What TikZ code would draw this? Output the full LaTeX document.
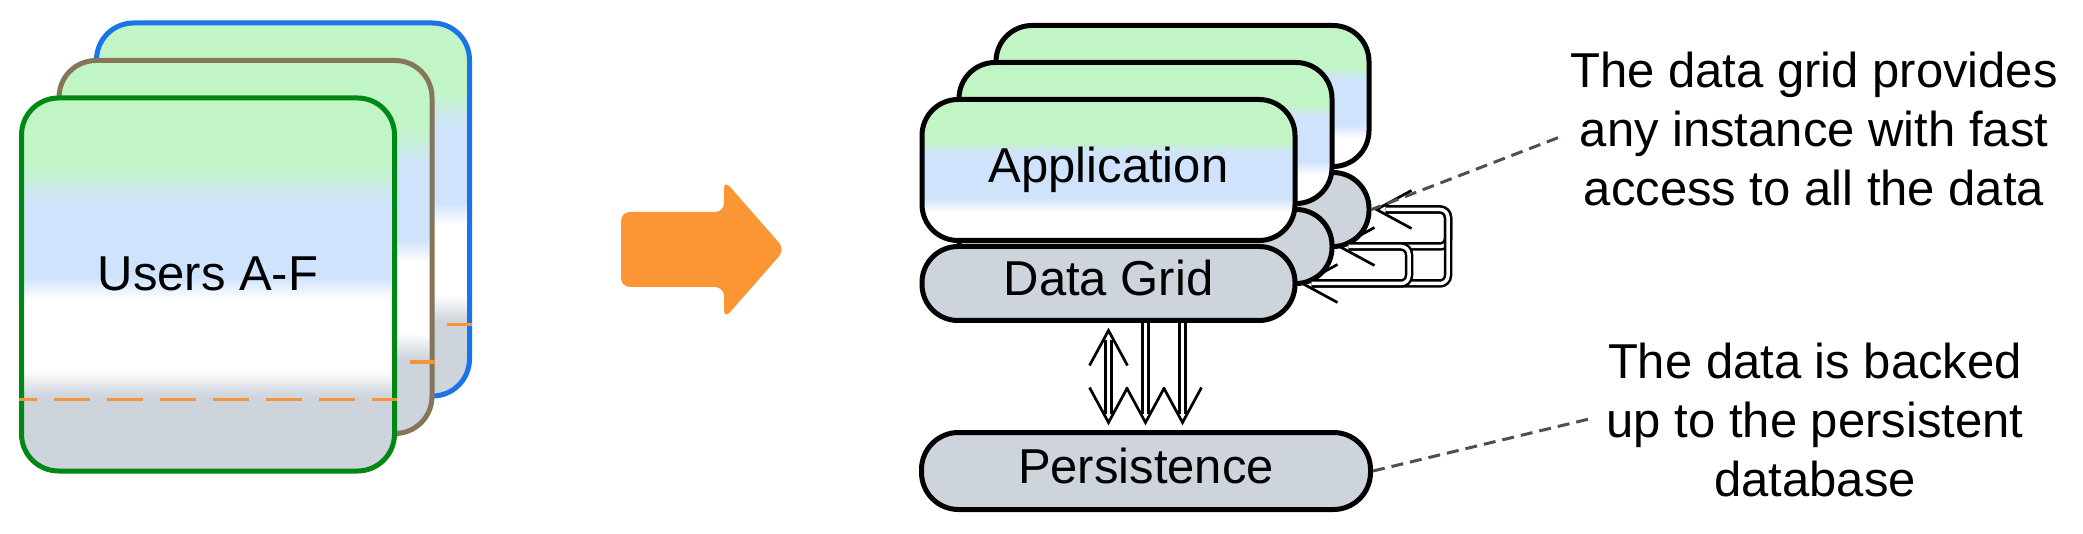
\documentclass[tikz,border=0pt]{standalone}
\usepackage{fontspec}
\setmainfont{Liberation Sans}
\usetikzlibrary{calc}
\definecolor{appgreen}{RGB}{194,245,198}
\definecolor{appblue}{RGB}{207,227,252}
\definecolor{boxgray}{RGB}{205,212,220}
\definecolor{cardgreen}{RGB}{0,136,20}
\definecolor{cardbrown}{RGB}{133,118,90}
\definecolor{cardblue}{RGB}{26,115,232}
\definecolor{dashorange}{RGB}{247,148,58}
\definecolor{arroworange}{RGB}{252,150,52}
\definecolor{notegray}{RGB}{72,80,92}
\pgfdeclareverticalshading{cardshade}{100bp}{color(0bp)=(boxgray); color(35bp)=(boxgray); color(38.5bp)=(white); color(48bp)=(white); color(51bp)=(appblue); color(61bp)=(appblue); color(66bp)=(appgreen); color(100bp)=(appgreen)}
\pgfdeclareverticalshading{appshade}{100bp}{color(0bp)=(white); color(35bp)=(white); color(40bp)=(appblue); color(56bp)=(appblue); color(60bp)=(appgreen); color(100bp)=(appgreen)}
\tikzset{
  txt/.style={font=\fontsize{49pt}{59pt}\selectfont},
  card/.style={txt, draw, line width=5pt, rounded corners=37pt, minimum width=373pt, minimum height=373pt, shade, shading=cardshade, text height=35pt, text depth=23pt},
  appbox/.style={txt, draw=black, line width=5pt, rounded corners=36pt, minimum width=373pt, minimum height=141pt, shade, shading=appshade, text height=35pt, text depth=10pt},
  gridbox/.style={txt, draw=black, fill=boxgray, line width=5pt, rounded corners=36pt, minimum width=373pt, minimum height=74pt, text height=35pt, text depth=10pt},
  orangedash/.style={draw=dashorange, line width=3.5pt, dash pattern=on 36pt off 17pt, dash phase=18pt},
  dbl/.style={draw=black, line width=2.5pt, double=white, double distance=3.5pt},
  note/.style={draw=notegray, line width=3pt, dash pattern=on 12pt off 7pt},
  notetext/.style={txt, align=center, anchor=north, inner sep=0pt},
  barb/.pic={\draw[line width=2.7pt, line join=miter] (35,-19) -- (0,0) -- (35,19);}
}
\begin{document}
\begin{tikzpicture}[x=1pt,y=-1pt]
\useasboundingbox (0,0) rectangle (2083,534);
% left: stacked user cards
\node[card, draw=cardblue] (uc) at (283,209.5) {};
\draw[orangedash] ($(uc.west)+(0,115)$) -- ($(uc.east)+(0,115)$);
\node[card, draw=cardbrown] (ub) at (245.5,247) {};
\draw[orangedash] ($(ub.west)+(0,115)$) -- ($(ub.east)+(0,115)$);
\node[card, draw=cardgreen] (ua) at (208,284.5) {Users A-F};
\draw[orangedash] ($(ua.west)+(0,115)$) -- ($(ua.east)+(0,115)$);
% big orange arrow
\fill[arroworange, rounded corners=9pt] (621,212) -- (724,212) -- (724,180) -- (785,249.5) -- (724,319) -- (724,287) -- (621,287) -- cycle;
% right: stacked instances
\node[gridbox] (dgC) at (1182.5,209.5) {};
\node[appbox] (apC) at (1182.5,96) {};
\node[gridbox] (dgB) at (1145.5,246.5) {};
\node[appbox] (apB) at (1145.5,133) {};
\node[gridbox] (dgA) at (1108.5,283.5) {Data Grid};
\node[appbox] (apA) at (1108.5,170) {Application};
\node[gridbox, minimum width=449pt, minimum height=77pt, rounded corners=37pt] (pers) at (1146,471) {Persistence};
% data grid <-> persistence
\draw[dbl, shorten <=17pt, shorten >=16pt] (dgA.south) -- (dgA.south |- pers.north);
\pic[rotate=-90] at ($(dgA.south)+(0,7.5)$) {barb};
\pic[rotate=90] at ($(dgA.south |- pers.north)+(0,-7.5)$) {barb};
\draw[dbl, shorten >=16pt] (dgB.south |- dgA.south) -- (dgB.south |- pers.north);
\pic[rotate=90] at ($(dgB.south |- pers.north)+(0,-7.5)$) {barb};
\draw[dbl, shorten >=16pt] (dgC.south |- dgA.south) -- (dgC.south |- pers.north);
\pic[rotate=90] at ($(dgC.south |- pers.north)+(0,-7.5)$) {barb};
% data grid <-> data grid loops
\coordinate (loopR) at (1448,0);
\coordinate (loopM) at (1409,0);
\draw[dbl, rounded corners=8pt, shorten <=14pt, shorten >=14pt] (dgC.east) -- (dgC.east -| loopR) -- (loopR |- dgB.east) -- (dgB.east);
\draw[dbl, rounded corners=8pt, shorten <=14pt, shorten >=14pt] (dgC.east) -- (dgC.east -| loopR) -- (loopR |- dgA.east) -- (dgA.east);
\draw[dbl, rounded corners=8pt, shorten <=14pt, shorten >=14pt] (dgB.east) -- (dgB.east -| loopM) -- (loopM |- dgA.east) -- (dgA.east);
\pic at ($(dgC.east)+(5,0)$) {barb};
\pic at ($(dgB.east)+(5,0)$) {barb};
\pic at ($(dgA.east)+(5,0)$) {barb};
% notes
\node[notetext] (note1) at (1814,52) {The data grid provides\\any instance with fast\\access to all the data};
\node[notetext] (note2) at (1815,343) {The data is backed\\up to the persistent\\database};
\draw[note] ([xshift=-12pt,yshift=-8.5pt]note1.west) -- (dgC.east);
\draw[note] (pers.east) -- ([xshift=-12pt,yshift=2.5pt]note2.west);
\end{tikzpicture}
\end{document}
